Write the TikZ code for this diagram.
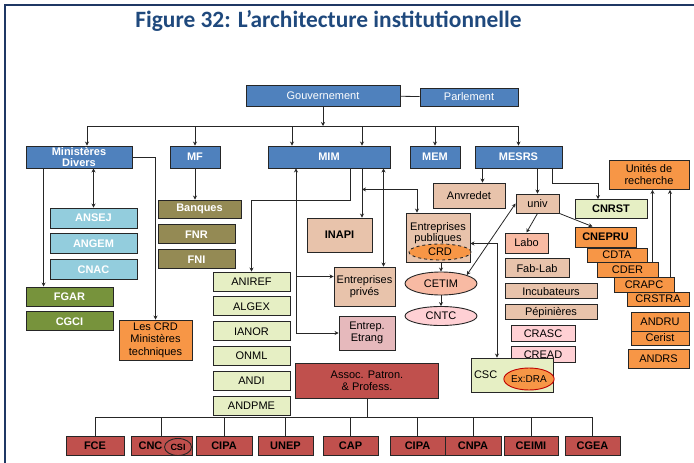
\documentclass[tikz,border=0pt]{standalone}
\usepackage{fontspec}
\setmainfont{Liberation Sans}
\newfontfamily\titlefont{Carlito}
\usepackage{xcolor}
\usetikzlibrary{positioning, shapes.geometric, arrows.meta, calc}

\definecolor{titleblue}{HTML}{1F497D}
\definecolor{framenavy}{HTML}{1F3864}
\definecolor{govblue}{HTML}{4F81BD}
\definecolor{lblue}{HTML}{93CDDD}
\definecolor{olive}{HTML}{77933C}
\definecolor{khaki}{HTML}{948A54}
\definecolor{orangefill}{HTML}{F79646}
\definecolor{limefill}{HTML}{E6EFC4}
\definecolor{tanfill}{HTML}{E8C3AB}
\definecolor{salmonfill}{HTML}{F8BAA3}
\definecolor{pinkfill}{HTML}{FFD0D4}
\definecolor{etrfill}{HTML}{E6B9BC}
\definecolor{redfill}{HTML}{C0504D}

\begin{document}
\begin{tikzpicture}[
    x=1pt, y=-1pt,
    box/.style={rectangle, draw=black!85, line width=0.9pt, inner sep=1pt, align=center, font=\fontsize{11}{12}\selectfont},
    govbox/.style={box, fill=govblue, text=white},
    minbox/.style={box, fill=govblue, text=white, minimum height=22pt, font=\fontsize{11}{10.5}\selectfont\bfseries},
    lbluebox/.style={box, fill=lblue, text=white, minimum width=87pt, minimum height=20pt, font=\fontsize{11}{12}\selectfont\bfseries},
    olivebox/.style={box, fill=olive, text=white, minimum width=87pt, minimum height=19pt, font=\fontsize{11}{12}\selectfont\bfseries},
    khakibox/.style={box, fill=khaki, text=white, minimum width=77pt, minimum height=19pt, font=\fontsize{11}{12}\selectfont\bfseries},
    orangebox/.style={box, fill=orangefill},
    limebox/.style={box, fill=limefill, minimum width=77pt, minimum height=19pt},
    tanbox/.style={box, fill=tanfill},
    salmonbox/.style={box, fill=salmonfill},
    pinkbox/.style={box, fill=pinkfill, minimum width=64pt, minimum height=16pt},
    redbox/.style={box, fill=redfill},
    botbox/.style={box, fill=redfill, minimum height=19pt, font=\fontsize{11}{12}\selectfont\bfseries},
    oval/.style={ellipse, draw=black!85, line width=0.9pt, inner sep=0pt, font=\fontsize{11}{12}\selectfont},
    link/.style={draw=black!85, line width=0.8pt},
    arr/.style={link, -{Stealth[length=4pt, width=4pt]}},
    dblarr/.style={link, {Stealth[length=4pt, width=4pt]}-{Stealth[length=4pt, width=4pt]}},
    frame/.style={draw=framenavy, line width=2pt}
]
\useasboundingbox (0,0) rectangle (694,463);
\draw[frame] (5,470) -- (5,5) -- (700,5);

\node[font=\titlefont\bfseries\fontsize{23.4}{27}\selectfont, text=titleblue] (title) at (328.5,21) {Figure 32: L’architecture institutionnelle};

% Top level
\node[govbox, minimum width=154pt, minimum height=21pt] (gouv) at (323,95.5) {Gouvernement};
\node[govbox, minimum width=98pt, minimum height=18pt] (parl) at (469,97) {Parlement};

% Ministries
\node[minbox, minimum width=106pt] (mindiv) at (79,157) {Ministères\\Divers};
\node[minbox, minimum width=50pt] (mf) at (195,157) {MF};
\node[minbox, minimum width=122pt] (mim) at (329,157) {MIM};
\node[minbox, minimum width=50pt] (mem) at (435,157) {MEM};
\node[minbox, minimum width=87pt] (mesrs) at (518.5,157) {MESRS};

% Ministeres Divers branch
\node[lbluebox] (ansej) at (93.5,218) {ANSEJ};
\node[lbluebox, below=5pt of ansej] (angem) {ANGEM};
\node[lbluebox, below=5pt of angem] (cnac) {CNAC};
\node[olivebox] (fgar) at (69.5,296.5) {FGAR};
\node[olivebox, below=5pt of fgar] (cgci) {CGCI};
\node[orangebox, minimum width=73pt, minimum height=40pt, font=\fontsize{11}{12.5}\selectfont] (crdmin) at (155.5,340) {Les CRD\\Ministères\\techniques};

% MF branch
\node[khakibox, minimum width=83pt, minimum height=18pt] (banques) at (199.5,209) {Banques};
\node[khakibox, below right=6pt and 0pt of banques.south west, anchor=north west] (fnr) {FNR};
\node[khakibox, below=5pt of fnr] (fni) {FNI};

% MIM branch
\node[limebox] (aniref) at (251.5,281.5) {ANIREF};
\node[limebox, below=5pt of aniref] (algex) {ALGEX};
\node[limebox, below=5pt of algex] (ianor) {IANOR};
\node[limebox, below=5pt of ianor] (onml) {ONML};
\node[limebox, below=5pt of onml] (andi) {ANDI};
\node[limebox, below=5pt of andi] (andpme) {ANDPME};
\node[tanbox, minimum width=65pt, minimum height=34pt, font=\fontsize{11}{12}\selectfont\bfseries] (inapi) at (339.5,235) {INAPI};
\node[tanbox, minimum width=61pt, minimum height=39pt] (epriv) at (364.5,286.5) {Entreprises\\privés};
\node[box, fill=etrfill, minimum width=56pt, minimum height=34pt] (eetr) at (367,333) {Entrep.\\Etrang};
\node[redbox, minimum width=143pt, minimum height=35pt] (assoc) at (367,380.5) {Assoc. Patron.\\ \& Profess.};
\node[tanbox, minimum width=64pt, minimum height=49pt, font=\fontsize{11}{11}\selectfont] (epub) at (438,237.5) {Entreprises\\publiques\\ \mbox{}};
\node[oval, dashed, fill=orangefill, minimum width=62pt, minimum height=16pt] (crd) at (440,252) {CRD};
\node[oval, fill=salmonfill, minimum width=72pt, minimum height=23pt] (cetim) at (441,283.5) {CETIM};
\node[oval, fill=pinkfill, minimum width=72pt, minimum height=19pt] (cntc) at (441,316) {CNTC};

% MESRS branch
\node[tanbox, minimum width=72pt, minimum height=25pt] (anvredet) at (469,195.5) {Anvredet};
\node[tanbox, minimum width=43pt, minimum height=19pt] (univ) at (537.5,203.5) {univ};
\node[salmonbox, minimum width=43pt, minimum height=20pt] (labo) at (526.5,243) {Labo};
\node[tanbox, minimum width=64pt, minimum height=19pt, below right=5pt and 0pt of labo.south west, anchor=north west] (fablab) {Fab-Lab};
\node[tanbox, minimum width=92pt, minimum height=15pt, below right=5pt and 0pt of fablab.south west, anchor=north west] (incub) {Incubateurs};
\node[tanbox, minimum width=92pt, minimum height=15pt, below=5pt of incub] (pepin) {Pépinières};
\node[pinkbox, below right=5pt and 6pt of pepin.south west, anchor=north west] (crasc) {CRASC};
\node[pinkbox, below=4pt of crasc] (cread) {CREAD};
\node[box, fill=limefill, minimum width=82pt, minimum height=34pt, text width=76pt, align=left] (csc) at (512,375) {CSC};
\node[oval, draw=red!75!black, fill=orangefill, minimum width=40pt, minimum height=22pt, font=\fontsize{10}{11}\selectfont] (exdra) at (529,379) {Ex:DRA};
\node[box, fill=limefill, minimum width=72pt, minimum height=19pt, font=\fontsize{11}{12}\selectfont\bfseries] (cnrst) at (611,209) {CNRST};

% Research centres
\node[orangebox, minimum width=80pt, minimum height=29pt] (unites) at (649,175) {Unités de\\recherche};
\node[orangebox, minimum width=61pt, minimum height=20pt, font=\fontsize{11}{12}\selectfont\bfseries] (cnepru) at (605.5,237) {CNEPRU};
\node[orangebox, minimum width=60pt, minimum height=14pt] (cdta) at (617,255) {CDTA};
\node[orangebox, minimum width=61pt, minimum height=15pt] (cder) at (627.5,269.5) {CDER};
\node[orangebox, minimum width=60pt, minimum height=15pt] (crapc) at (644,284.5) {CRAPC};
\node[orangebox, minimum width=62pt, minimum height=14pt] (crstra) at (658,299) {CRSTRA};
\node[orangebox, minimum width=58pt, minimum height=19pt] (andru) at (660,321.5) {ANDRU};
\node[orangebox, minimum width=58pt, minimum height=14pt] (cerist) at (660,338) {Cerist};
\node[orangebox, minimum width=61pt, minimum height=19pt] (andrs) at (658.5,358.5) {ANDRS};

% Bottom row
\foreach \n/\x/\w/\t in {fce/95/58/FCE, cnc/161.5/61/{CNC\hspace{22pt}}, cipa/224/56/CIPA, unep/285.5/55/UNEP,
    cap/350.5/55/CAP, cipb/417.5/55/CIPA, cnpa/473/56/CNPA, ceimi/531/54/CEIMI, cgea/592.5/55/CGEA}
    \node[botbox, minimum width=\w pt] (\n) at (\x,445.5) {\t};
\node[oval, minimum width=27pt, minimum height=17pt, font=\fontsize{9}{10}\selectfont\bfseries] (csi) at (178,447) {CSI};

% Connectors
\coordinate (topbus) at (0,126);
\coordinate (botbus) at (0,417);

\draw[link] (gouv) -- (parl);
\draw[arr] (gouv.south) -- (gouv.south |- topbus);
\draw[link] ([xshift=8pt]mindiv.north |- topbus) -- (mesrs.north |- topbus);
\draw[arr] ([xshift=8pt]mindiv.north |- topbus) -- ([xshift=8pt]mindiv.north);
\draw[arr] (mf.north |- topbus) -- (mf.north);
\draw[arr] ([xshift=-37pt]mim.north |- topbus) -- ([xshift=-37pt]mim.north);
\draw[arr] ([xshift=33pt]mim.north |- topbus) -- ([xshift=33pt]mim.north);
\draw[arr] (mem.north |- topbus) -- (mem.north);
\draw[arr] (mesrs.north |- topbus) -- (mesrs.north);

\draw[arr] ([xshift=18pt]mindiv.south west) -- ([xshift=18pt]fgar.north west);
\draw[dblarr] (ansej.north |- mindiv.south) -- (ansej.north);
\draw[arr] (mindiv.east) -| (crdmin.north);

\draw[arr] (mf.south) -- (mf.south |- banques.north);

\coordinate (mimA) at ([xshift=21pt]mim.south);
\coordinate (mimB) at ([xshift=33pt]mim.south);
\coordinate (mimC) at ([xshift=-33pt]mim.south);
\draw[arr] (mimA) -- ++(0,32) -| (aniref.north);
\draw[arr] (mimB) -- (mimB |- inapi.north);
\draw[dblarr] ([yshift=-21pt]mimB) -| ([xshift=-21pt]epub.north);
\draw[dblarr] ([xshift=19pt]epriv.north |- mim.south) -- ([xshift=19pt]epriv.north);
\draw[dblarr] (mimC) |- (eetr.west);
\draw[arr] ([yshift=10pt]epriv.west -| mimC) -- ([yshift=10pt]epriv.west);

\draw[arr] (cetim.north |- epub.south) -- (cetim.north);
\draw[arr] (cetim) -- (cntc);
\draw[dblarr] ([yshift=-6pt]epub.east) -| ([xshift=-15pt]csc.north);

\draw[arr] ([xshift=-36pt]mesrs.south) -- ([xshift=-36pt]mesrs.south |- anvredet.north);
\draw[arr] (univ.north |- mesrs.south) -- (univ.north);
\draw[arr] ([xshift=34pt]mesrs.south) |- ([xshift=-13pt, yshift=16pt]cnrst.north) -- ([xshift=-13pt]cnrst.north);
\draw[arr] (univ.south) -- (labo.north);
\draw[arr] (univ.south east) -- ([xshift=-13pt]cnepru.north);
\draw[dblarr] (univ.west) -- (cetim.north east);

\draw[arr] ([xshift=25pt]cder.north) -- ([xshift=25pt]cder.north |- unites.south);
\draw[arr] ([xshift=26pt]crapc.north) -- ([xshift=26pt]crapc.north |- unites.south);

\draw[link] (fce.north |- botbus) -- (cgea.north |- botbus);
\draw[link] (assoc.south) -- (assoc.south |- botbus);
\foreach \n in {fce, cnc, cipa, unep, cap, cipb, cnpa, ceimi, cgea}
    \draw[link] (\n.north) -- (\n.north |- botbus);

\end{tikzpicture}
\end{document}
